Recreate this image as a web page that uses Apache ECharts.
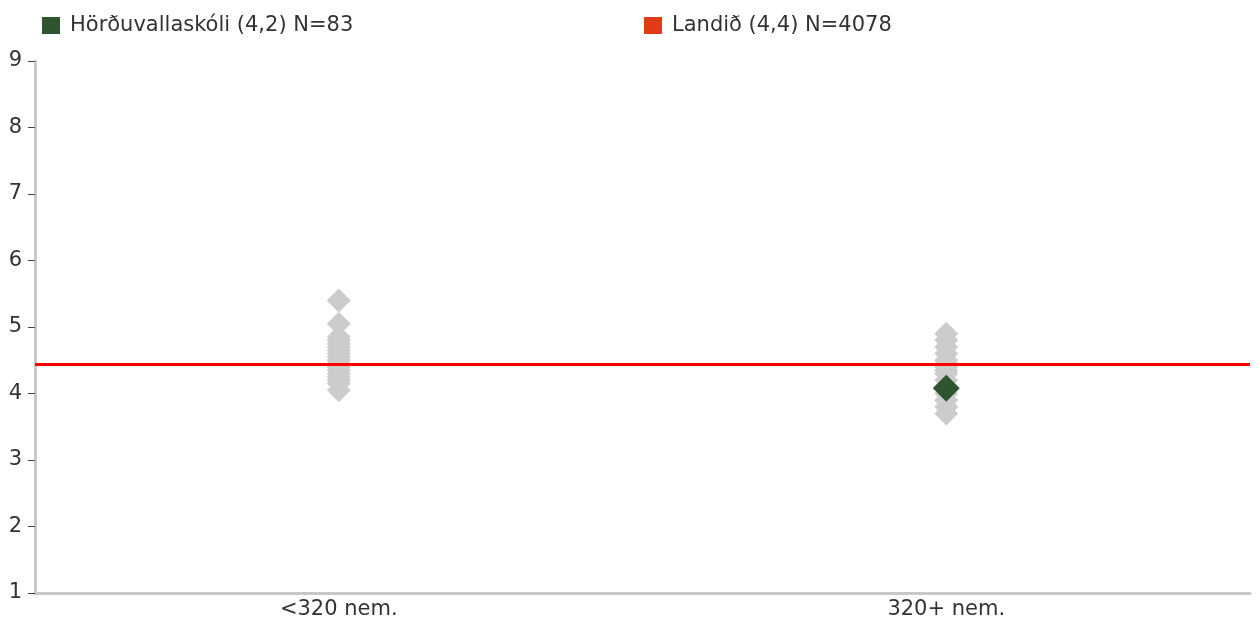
<!DOCTYPE html>
<html>
<head>
<meta charset="utf-8">
<script src="https://cdn.jsdelivr.net/npm/echarts@6/dist/echarts.min.js"></script>
<style>
html,body{margin:0;padding:0;background:#fff;}
#chart{width:1260px;height:623px;}
</style>
</head>
<body>
<div id="chart"></div>
<script>
var categories = ['<320 nem.', '320+ nem.'];
var yTicks = [1, 2, 3, 4, 5, 6, 7, 8, 9];
var schoolsSmall = [5.4, 5.05, 4.85, 4.8, 4.75, 4.7, 4.65, 4.6, 4.55, 4.5, 4.45, 4.4, 4.35, 4.3, 4.25, 4.2, 4.15, 4.05];
var schoolsLarge = [4.9, 4.8, 4.7, 4.6, 4.5, 4.45, 4.4, 4.35, 4.3, 4.2, 4.1, 4.0, 3.9, 3.8, 3.7];
var schoolName = 'Hörðuvallaskóli (4,2) N=83';
var schoolValue = [[1, 4.08]];
var nationName = 'Landið (4,4) N=4078';
var nationValue = 4.44;

var grayPoints = [];
schoolsSmall.forEach(function (v) { grayPoints.push([0, v]); });
schoolsLarge.forEach(function (v) { grayPoints.push([1, v]); });

var font = '"DejaVu Sans", sans-serif';
var chart = echarts.init(document.getElementById('chart'));
chart.setOption({
  animation: false,
  grid: { left: 35, right: 10, top: 61, bottom: 30, containLabel: false },
  legend: [
    { data: [schoolName], left: 37, top: 10, icon: 'rect', itemWidth: 18, itemHeight: 17, itemGap: 0,
      textStyle: { fontFamily: font, fontSize: 21, color: '#333', padding: [0, 0, 0, 5] } },
    { data: [nationName], left: 639, top: 10, icon: 'rect', itemWidth: 18, itemHeight: 17, itemGap: 0,
      textStyle: { fontFamily: font, fontSize: 21, color: '#333', padding: [0, 0, 0, 5] } }
  ],
  xAxis: {
    type: 'category', data: categories, boundaryGap: true,
    axisLine: { lineStyle: { color: '#c8c8c8', width: 3 } },
    axisTick: { show: false },
    axisLabel: { fontFamily: font, fontSize: 21, color: '#333', margin: 6 },
    splitLine: { show: false }
  },
  yAxis: {
    type: 'value', min: yTicks[0], max: yTicks[yTicks.length - 1], interval: 1,
    axisLine: { show: true, lineStyle: { color: '#c8c8c8', width: 3 } },
    axisTick: { show: true, inside: false, length: 7, lineStyle: { color: '#444', width: 1 } },
    axisLabel: { fontFamily: font, fontSize: 21, color: '#333', margin: 13 },
    splitLine: { show: false }
  },
  series: [
    { name: 'others', type: 'scatter', data: grayPoints, symbol: 'diamond', symbolSize: 24,
      itemStyle: { color: '#cccccc', opacity: 1 }, z: 2, silent: true },
    { name: nationName, type: 'line', data: [], symbol: 'none',
      itemStyle: { color: '#e03a16' }, lineStyle: { color: '#e03a16' },
      markLine: { silent: true, symbol: ['none', 'none'], label: { show: false },
        lineStyle: { color: '#ff0000', width: 3, type: 'solid' },
        data: [{ yAxis: nationValue }] }, z: 3 },
    { name: schoolName, type: 'scatter', data: schoolValue, symbol: 'diamond', symbolSize: 27,
      itemStyle: { color: '#2e5530', opacity: 1 }, z: 4 }
  ]
});
</script>
</body>
</html>
